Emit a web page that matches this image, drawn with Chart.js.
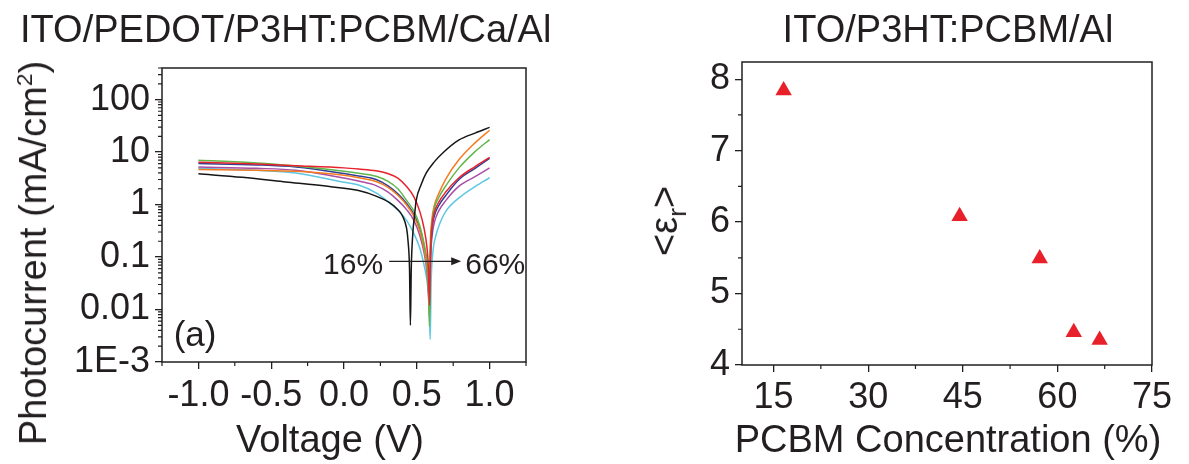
<!DOCTYPE html>
<html>
<head>
<meta charset="utf-8">
<script src="https://cdn.jsdelivr.net/npm/chart.js@4.4.0/dist/chart.umd.min.js"></script>
<style>
  body { margin: 0; background: #fff; }
  #wrap { position: relative; width: 1189px; height: 464px; overflow: hidden;
          font-family: "Liberation Sans", Arial, sans-serif; color: #231f20; }
  canvas { position: absolute; top: 0; }
  .txt { position: absolute; white-space: nowrap; line-height: 1; font-size: 38px; }
  .ctr { transform: translateX(-50%); }
  .rot { transform: translate(-50%, -50%) rotate(-90deg); }
  sup { font-size: 0.6em; line-height: 0; }
  sub { font-size: 0.7em; line-height: 0; }
</style>
</head>
<body>
<div id="wrap">
  <canvas id="ivChart" width="594" height="464" style="left:0"></canvas>
  <canvas id="epsChart" width="595" height="464" style="left:594px"></canvas>
  <div class="txt" style="left:20px; top:10px">ITO/PEDOT/P3HT:PCBM/Ca/Al</div>
  <div class="txt ctr" style="left:948px; top:10px">ITO/P3HT:PCBM/Al</div>
  <div class="txt ctr" style="left:330px; top:420px">Voltage (V)</div>
  <div class="txt ctr" style="left:948px; top:420px">PCBM Concentration (%)</div>
  <div class="txt rot" style="left:33px; top:253px">Photocurrent (mA/cm<sup>2</sup>)</div>
  <div class="txt rot" style="left:664px; top:221px">&lt;ε<sub>r</sub>&gt;</div>
</div>
<script>
// Photocurrent |J| (mA/cm2) vs voltage (V), one curve per PCBM loading
const voltBlack = [-1.0, -0.7, -0.4, -0.1, 0.1, 0.22, 0.31, 0.36, 0.40, 0.43, 0.44, 0.45, 0.456, 0.462, 0.473, 0.485, 0.496, 0.53, 0.565, 0.62, 0.68, 0.79, 0.9, 1.0];
const curBlack  = [3.85, 3.3, 2.7, 2.2, 1.85, 1.45, 1.1, 0.85, 0.62, 0.35, 0.2, 0.06, 0.005, 0.06, 0.29, 0.65, 1.2, 2.4, 4.0, 6.5, 9.7, 17, 23, 29.5];

const voltRed = [-1.0, -0.6, -0.33, 0.0, 0.1, 0.22, 0.3, 0.37, 0.43, 0.48, 0.52, 0.55, 0.57, 0.58, 0.587, 0.594, 0.605, 0.62, 0.65, 0.7, 0.79, 0.9, 1.0];
const curRed  = [6.4, 5.9, 5.5, 5.0, 4.75, 4.4, 3.9, 3.2, 2.2, 1.4, 0.75, 0.35, 0.15, 0.06, 0.012, 0.12, 0.4, 0.7, 1.1, 1.75, 3.24, 5.3, 7.95];

const voltGreen = [-1.0, -0.6, -0.33, 0.0, 0.1, 0.22, 0.3, 0.37, 0.43, 0.48, 0.52, 0.55, 0.57, 0.58, 0.587, 0.594, 0.605, 0.62, 0.65, 0.7, 0.79, 0.9, 1.0];
const curGreen  = [6.98, 6.2, 5.4, 4.3, 3.95, 3.47, 2.8, 2.0, 1.2, 0.75, 0.4, 0.18, 0.08, 0.03, 0.0048, 0.12, 0.45, 0.85, 1.35, 2.3, 5.0, 10.2, 17.3];

const voltOrange = [-1.0, -0.6, -0.33, 0.0, 0.1, 0.22, 0.3, 0.37, 0.43, 0.48, 0.52, 0.55, 0.57, 0.58, 0.585, 0.592, 0.603, 0.62, 0.65, 0.7, 0.79, 0.9, 1.0];
const curOrange  = [4.64, 4.5, 4.3, 3.6, 3.25, 2.75, 2.15, 1.5, 0.98, 0.6, 0.32, 0.14, 0.06, 0.025, 0.0087, 0.15, 0.5, 0.95, 1.6, 3.1, 7.2, 15, 26];

const voltBlue = [-1.0, -0.6, -0.33, 0.0, 0.1, 0.22, 0.3, 0.37, 0.43, 0.48, 0.52, 0.55, 0.57, 0.58, 0.587, 0.594, 0.605, 0.62, 0.65, 0.7, 0.79, 0.9, 1.0];
const curBlue  = [6.04, 5.7, 5.2, 3.9, 3.5, 3.0, 2.3, 1.6, 1.05, 0.65, 0.35, 0.16, 0.07, 0.03, 0.01, 0.1, 0.35, 0.6, 0.95, 1.5, 3.0, 4.9, 7.6];

const voltPurple = [-1.0, -0.6, -0.33, 0.0, 0.1, 0.22, 0.3, 0.37, 0.43, 0.48, 0.52, 0.55, 0.57, 0.58, 0.587, 0.594, 0.605, 0.62, 0.65, 0.7, 0.79, 0.9, 1.0];
const curPurple  = [5.2, 4.9, 4.5, 3.2, 2.8, 2.3, 1.75, 1.2, 0.8, 0.5, 0.26, 0.12, 0.05, 0.02, 0.0074, 0.08, 0.25, 0.45, 0.75, 1.2, 2.24, 3.4, 5.0];

const voltCyan = [-1.0, -0.6, -0.33, 0.0, 0.1, 0.22, 0.3, 0.37, 0.43, 0.48, 0.52, 0.55, 0.57, 0.585, 0.592, 0.598, 0.61, 0.63, 0.66, 0.7, 0.79, 0.9, 1.0];
const curCyan  = [4.9, 4.5, 4.0, 2.66, 2.35, 1.67, 1.15, 0.78, 0.5, 0.28, 0.15, 0.07, 0.035, 0.012, 0.0027, 0.03, 0.12, 0.25, 0.45, 0.75, 1.34, 2.2, 3.24];

const voltTicks = [-1.0, -0.5, 0.0, 0.5, 1.0];
const voltMinor = [-1.25, -0.75, -0.25, 0.25, 0.75, 1.25];
const curTicks = [0.001, 0.01, 0.1, 1, 10, 100];
const curTickText = ['1E-3', '0.01', '0.1', '1', '10', '100'];

// Mean dielectric constant vs PCBM concentration
const pcbmConc = [16.6, 44.5, 57.2, 62.6, 66.7];
const epsMean  = [7.84, 6.08, 5.49, 4.46, 4.35];
const concTicks = [15, 30, 45, 60, 75];
const concMinor = [22.5, 37.5, 52.5, 67.5];
const epsTicks = [4, 5, 6, 7, 8];
const epsMinor = [4.5, 5.5, 6.5, 7.5];

const ink = '#231f20';
const tickFont = { family: '"Liberation Sans", Arial, sans-serif', size: 36 };

// minor ticks for the log axis: 2..9 per decade
const curMinor = [];
[0.001, 0.01, 0.1, 1, 10, 100].forEach(d => {
  for (let k = 2; k <= 9; k++) if (d * k <= 400) curMinor.push(d * k);
});

// closed frame round the plot plus short outward minor ticks
const framePlugin = {
  id: 'frame',
  afterDraw(chart, args, opts) {
    const { ctx, chartArea: a, scales } = chart;
    ctx.save();
    ctx.strokeStyle = ink;
    ctx.lineWidth = 1.5;
    ctx.strokeRect(a.left, a.top, a.right - a.left, a.bottom - a.top);
    ctx.lineWidth = 1.2;
    ctx.beginPath();
    opts.xMinor.forEach(v => {
      const px = scales.x.getPixelForValue(v);
      ctx.moveTo(px, a.bottom); ctx.lineTo(px, a.bottom + 4);
    });
    opts.yMinor.forEach(v => {
      const py = scales.y.getPixelForValue(v);
      ctx.moveTo(a.left, py); ctx.lineTo(a.left - 4, py);
    });
    ctx.stroke();
    ctx.restore();
  }
};

// "16% -> 66%" arrow and the panel letter
const notesPlugin = {
  id: 'notes',
  afterDatasetsDraw(chart) {
    const { ctx, scales: { x, y } } = chart;
    const ya = y.getPixelForValue(0.083);
    const x0 = x.getPixelForValue(0.31);
    const x1 = x.getPixelForValue(0.805);
    ctx.save();
    ctx.strokeStyle = ink;
    ctx.fillStyle = ink;
    ctx.lineWidth = 1.3;
    ctx.beginPath();
    ctx.moveTo(x0, ya); ctx.lineTo(x1 - 8, ya);
    ctx.stroke();
    ctx.beginPath();
    ctx.moveTo(x1, ya); ctx.lineTo(x1 - 10, ya - 4); ctx.lineTo(x1 - 10, ya + 4);
    ctx.closePath(); ctx.fill();
    ctx.font = '30px "Liberation Sans", Arial, sans-serif';
    ctx.textBaseline = 'middle';
    ctx.textAlign = 'right';
    ctx.fillText('16%', x0 - 6, ya + 4);
    ctx.textAlign = 'left';
    ctx.fillText('66%', x1 + 4, ya + 4);
    ctx.font = '35px "Liberation Sans", Arial, sans-serif';
    ctx.fillText('(a)', x.getPixelForValue(-1.17), y.getPixelForValue(0.0031));
    ctx.restore();
  }
};

const curves = [
  { volt: voltBlack, cur: curBlack, color: '#161616' },
  { volt: voltRed, cur: curRed, color: '#e8222a' },
  { volt: voltGreen, cur: curGreen, color: '#62b64a' },
  { volt: voltOrange, cur: curOrange, color: '#f47b20' },
  { volt: voltBlue, cur: curBlue, color: '#2e3f98' },
  { volt: voltPurple, cur: curPurple, color: '#a84fa8' },
  { volt: voltCyan, cur: curCyan, color: '#5ec8e2' }
];

const gridOpts = { drawOnChartArea: false, tickLength: 7, lineWidth: 1.3, color: ink, tickColor: ink };

new Chart(document.getElementById('ivChart'), {
  type: 'line',
  data: {
    datasets: curves.map(c => ({
      data: c.volt.map((v, i) => ({ x: v, y: c.cur[i] })),
      borderColor: c.color,
      borderWidth: 1.5,
      pointRadius: 0,
      fill: false,
      cubicInterpolationMode: 'monotone'
    }))
  },
  options: {
    responsive: false,
    animation: false,
    devicePixelRatio: 1,
    layout: { padding: { top: 68, right: 68, left: 0, bottom: 0 } },
    plugins: {
      legend: { display: false },
      tooltip: { enabled: false },
      frame: { xMinor: voltMinor, yMinor: curMinor }
    },
    scales: {
      x: {
        type: 'linear', min: -1.25, max: 1.25,
        afterBuildTicks: s => { s.ticks = voltTicks.map(v => ({ value: v })); },
        afterFit: s => { s.height = 102; },
        ticks: { callback: v => v.toFixed(1), font: tickFont, color: ink, padding: 5, autoSkip: false, maxRotation: 0 },
        grid: gridOpts,
        border: { display: false }
      },
      y: {
        type: 'logarithmic', min: 0.001, max: 400,
        afterBuildTicks: s => { s.ticks = curTicks.map(v => ({ value: v })); },
        afterFit: s => { s.width = 162; },
        ticks: { callback: (v, i) => curTickText[i], font: tickFont, color: ink, padding: 5, autoSkip: false },
        grid: gridOpts,
        border: { display: false }
      }
    }
  },
  plugins: [framePlugin, notesPlugin]
});

new Chart(document.getElementById('epsChart'), {
  type: 'scatter',
  data: {
    datasets: [{
      data: pcbmConc.map((c, i) => ({ x: c, y: epsMean[i] })),
      pointStyle: 'triangle',
      pointRadius: 9.5,
      backgroundColor: '#e8202a',
      borderColor: '#e8202a',
      borderWidth: 0
    }]
  },
  options: {
    responsive: false,
    animation: false,
    devicePixelRatio: 1,
    layout: { padding: { top: 62, right: 37, left: 0, bottom: 0 } },
    plugins: {
      legend: { display: false },
      tooltip: { enabled: false },
      frame: { xMinor: concMinor, yMinor: epsMinor }
    },
    scales: {
      x: {
        type: 'linear', min: 10, max: 75,
        afterBuildTicks: s => { s.ticks = concTicks.map(v => ({ value: v })); },
        afterFit: s => { s.height = 99; },
        ticks: { font: tickFont, color: ink, padding: 4, autoSkip: false, maxRotation: 0 },
        grid: gridOpts,
        border: { display: false }
      },
      y: {
        type: 'linear', min: 4, max: 8.24,
        afterBuildTicks: s => { s.ticks = epsTicks.map(v => ({ value: v })); },
        afterFit: s => { s.width = 148; },
        ticks: { font: tickFont, color: ink, padding: 5, autoSkip: false },
        grid: gridOpts,
        border: { display: false }
      }
    }
  },
  plugins: [framePlugin]
});
</script>
</body>
</html>
